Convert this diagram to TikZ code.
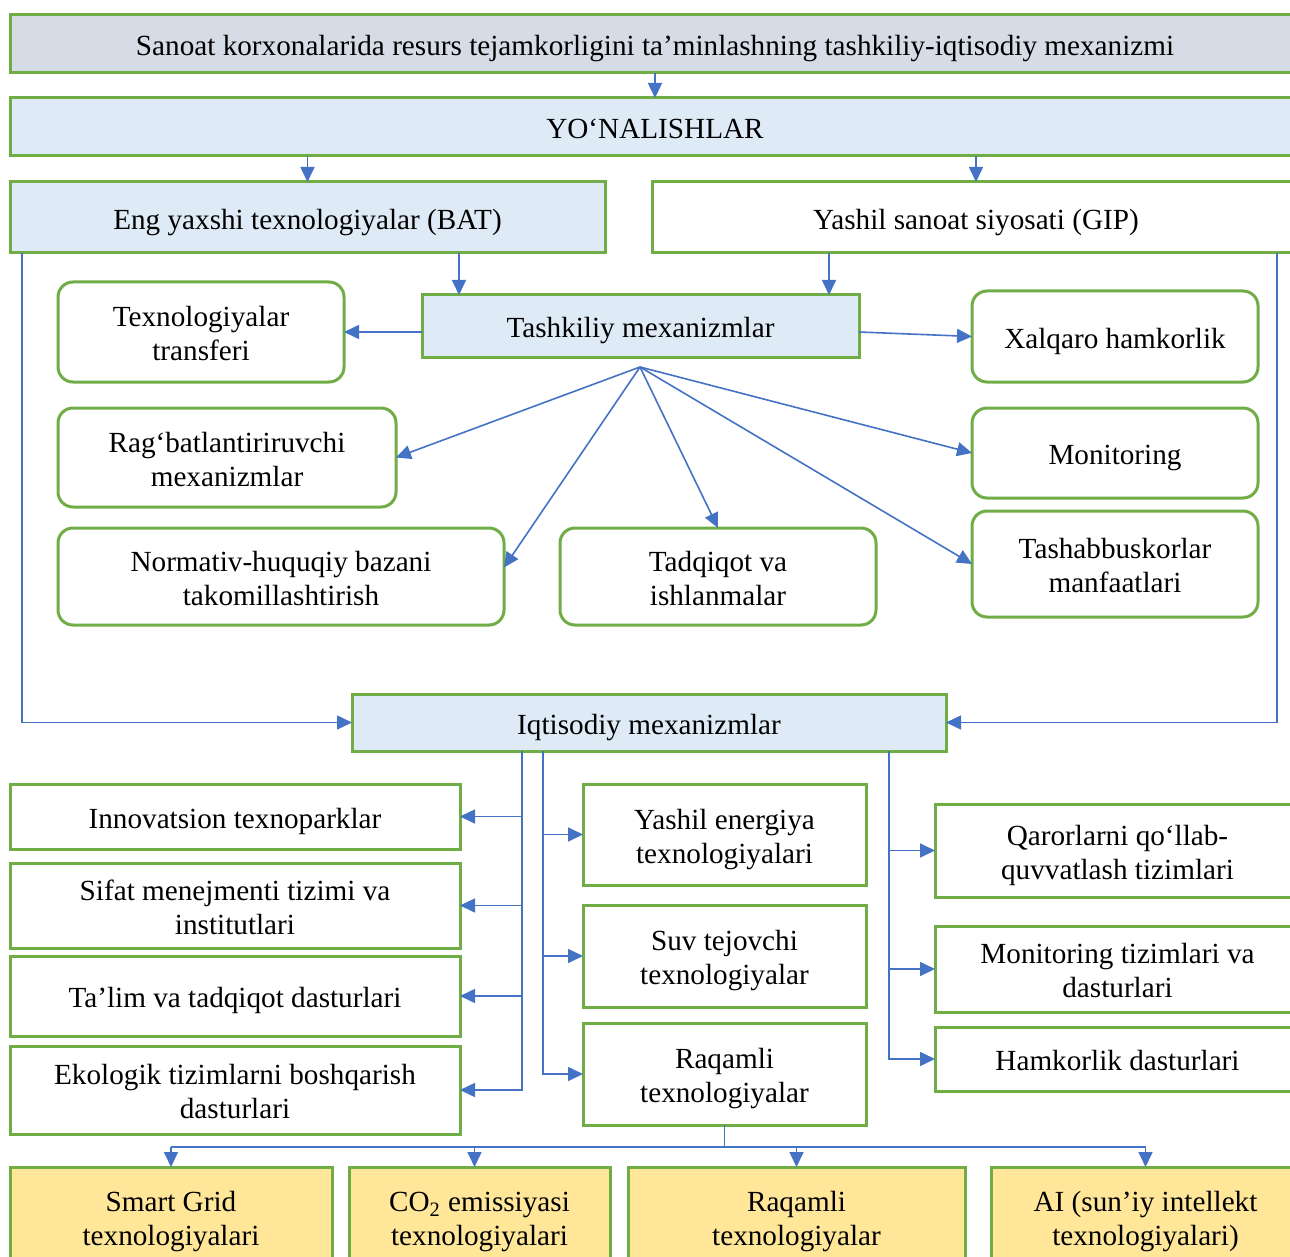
\documentclass[tikz,border=0pt]{standalone}
\usepackage{fontspec}
\setmainfont{Liberation Serif}
\usetikzlibrary{arrows.meta,calc}
\definecolor{gr}{HTML}{70AD47}
\definecolor{bl}{HTML}{4472C4}
\definecolor{titlefill}{HTML}{D6DCE5}
\definecolor{lb}{HTML}{DEEBF7}
\definecolor{yl}{HTML}{FFE699}
\newcommand{\fz}{\fontsize{14.6}{17}\selectfont}
% \bx{style}{name}{x1}{y1}{x2}{y2}{text}
\newcommand{\bx}[7]{\node[#1, minimum width={(#5-#3)*0.5pt}, minimum height={(#6-#4)*0.5pt}] (#2) at ({(#3+#5)/2},{(#4+#6)/2}) {\raisebox{-2.5pt}[\height][\depth]{\begin{tabular}{@{}c@{}}#7\end{tabular}}};}
\begin{document}
\begin{tikzpicture}[x=0.5pt,y=-0.5pt,
  box/.style={draw=gr, line width=1.5pt, inner sep=0pt, outer sep=0pt, align=center, font=\fz, fill=white},
  rbox/.style={box, rounded corners=7.5pt},
  conn/.style={draw=bl, line width=0.8pt},
  arr/.style={conn, -{Triangle[length=7.5pt,width=7pt]}}]
\useasboundingbox (0,0) rectangle (1290,1257);
\clip (0,0) rectangle (1290,1257);

% top level
\bx{box, fill=titlefill}{title}{10}{15}{1300}{73}{Sanoat korxonalarida resurs tejamkorligini ta’minlashning tashkiliy-iqtisodiy mexanizmi}
\bx{box, fill=lb}{yon}{10}{98}{1300}{156}{YO‘NALISHLAR}
\bx{box, fill=lb}{bat}{10}{182}{605}{253}{Eng yaxshi texnologiyalar (BAT)}
\bx{box}{gip}{652}{182}{1300}{253}{Yashil sanoat siyosati (GIP)}

% tashkiliy
\bx{box, fill=lb}{tash}{422}{295}{859}{357}{Tashkiliy mexanizmlar}
\bx{rbox}{tex}{58}{282}{344}{382}{Texnologiyalar\\transferi}
\bx{rbox}{xal}{972}{291}{1258}{382}{Xalqaro hamkorlik}
\bx{rbox}{rag}{58}{408}{396}{507}{Rag‘batlantiriruvchi\\mexanizmlar}
\bx{rbox}{mon}{972}{408}{1258}{498}{Monitoring}
\bx{rbox}{nor}{58}{528}{504}{625}{Normativ-huquqiy bazani\\takomillashtirish}
\bx{rbox}{tad}{560}{528}{876}{625}{Tadqiqot va\\ishlanmalar}
\bx{rbox}{tsb}{972}{511}{1258}{617}{Tashabbuskorlar\\manfaatlari}

% iqtisodiy
\bx{box, fill=lb}{iq}{352}{694}{946}{751}{Iqtisodiy mexanizmlar}
\bx{box}{inn}{10}{784}{460}{849}{Innovatsion texnoparklar}
\bx{box}{sif}{10}{863}{460}{948}{Sifat menejmenti tizimi va\\institutlari}
\bx{box}{tal}{10}{956}{460}{1036}{Ta’lim va tadqiqot dasturlari}
\bx{box}{eko}{10}{1046}{460}{1134}{Ekologik tizimlarni boshqarish\\dasturlari}
\bx{box}{yas}{583}{784}{866}{885}{Yashil energiya\\texnologiyalari}
\bx{box}{suv}{583}{905}{866}{1007}{Suv tejovchi\\texnologiyalar}
\bx{box}{raq}{583}{1023}{866}{1125}{Raqamli\\texnologiyalar}
\bx{box}{qar}{935}{804}{1300}{897}{Qarorlarni qo‘llab-\\quvvatlash tizimlari}
\bx{box}{mts}{935}{926}{1300}{1012}{Monitoring tizimlari va\\dasturlari}
\bx{box}{ham}{935}{1027}{1300}{1091}{Hamkorlik dasturlari}

% bottom
\bx{box, fill=yl}{sg}{10}{1167}{332}{1267}{Smart Grid\\texnologiyalari}
\bx{box, fill=yl}{co}{349}{1167}{610}{1267}{CO\textsubscript{2} emissiyasi\\texnologiyalari}
\bx{box, fill=yl}{rt}{628}{1167}{965}{1267}{Raqamli\\texnologiyalar}
\bx{box, fill=yl}{ai}{991}{1167}{1300}{1267}{AI (sun’iy intellekt\\texnologiyalari)}

% connectors: top
\draw[arr] (title.south) -- (yon.north);
\draw[arr] (yon.south -| bat.north) -- (bat.north);
\draw[arr] (yon.south -| gip.north) -- (gip.north);
\coordinate (tb1) at ($(tash.north west)+(37,0)$);
\coordinate (tb2) at ($(tash.north east)+(-30,0)$);
\draw[arr] (tb1 |- bat.south) -- (tb1);
\draw[arr] (tb2 |- gip.south) -- (tb2);
\draw[arr] (tash.west |- tex.east) -- (tex.east);
\draw[arr] (tash.east |- tex.east) -- (xal.west);

% fan
\coordinate (fan) at ($(tash.south)+(-0.5,10)$);
\coordinate (norin) at ($(nor.east)+(0,-9)$);
\draw[arr] (fan) -- (rag.east);
\draw[arr] (fan) -- (norin);
\draw[arr] (fan) -- (tad.north);
\draw[arr] (fan) -- (mon.west);
\draw[arr] (fan) -- (tsb.west);

% long side lines
\coordinate (lx) at ($(bat.south west)+(12,0)$);
\coordinate (rx) at ($(gip.south east)+(-23,0)$);
\draw[arr] (lx) |- (iq.west);
\draw[arr] (rx) |- (iq.east);

% iqtisodiy trunks
\coordinate (tL) at (522,751);
\coordinate (tM) at (543,751);
\coordinate (tR) at (889,751);
\draw[arr] (iq.south -| tL) |- (eko.east);
\draw[arr] (tL |- inn.east) -- (inn.east);
\draw[arr] (tL |- sif.east) -- (sif.east);
\draw[arr] (tL |- tal.east) -- (tal.east);
\draw[arr] (iq.south -| tM) |- (raq.west);
\draw[arr] (tM |- yas.west) -- (yas.west);
\draw[arr] (tM |- suv.west) -- (suv.west);
\draw[arr] (iq.south -| tR) |- (ham.west);
\draw[arr] (tR |- qar.west) -- (qar.west);
\draw[arr] (tR |- mts.west) -- (mts.west);

% bottom bus
\coordinate (bus) at ($(raq.south)+(0,22)$);
\coordinate (coin) at ($(co.north)+(-5,0)$);
\draw[conn] (raq.south) -- (bus);
\draw[conn] (bus -| sg.north) -- (bus -| ai.north);
\draw[arr] (bus -| sg.north) -- (sg.north);
\draw[arr] (bus -| coin) -- (coin);
\draw[arr] (bus -| rt.north) -- (rt.north);
\draw[arr] (bus -| ai.north) -- (ai.north);
\end{tikzpicture}
\end{document}
